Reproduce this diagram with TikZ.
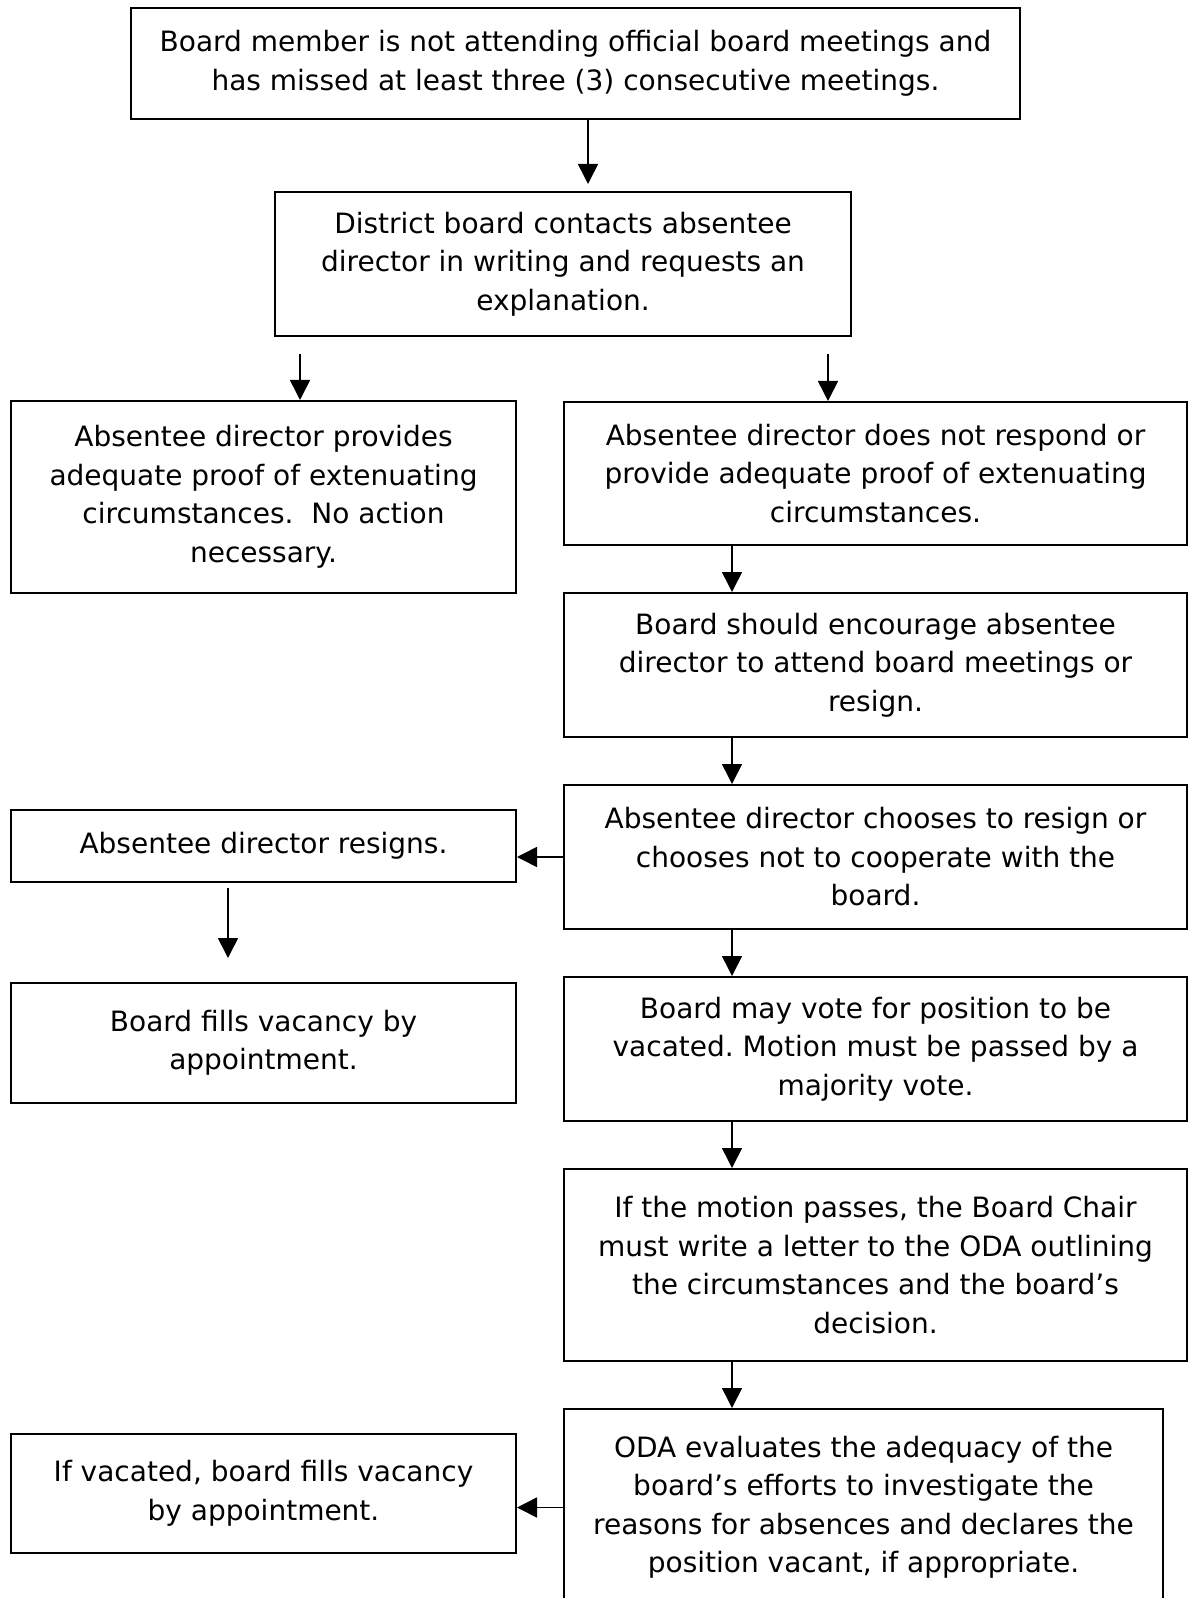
\documentclass[tikz,border=0pt]{standalone}
\usepackage{fontspec}
\setmainfont{DejaVu Sans}
\usetikzlibrary{arrows.meta, calc}
\frenchspacing

\begin{document}
\begin{tikzpicture}[x=0.5pt, y=-0.5pt]

    % Page frame
    \useasboundingbox (0,0) rectangle (1190,1598);
    \clip (0,0) rectangle (1190,1598);

    % Boxes
    \tikzset{bx/.style={draw=black, line width=1pt, align=center, inner sep=0pt, font=\fontsize{14}{19.25}\selectfont}}
    \tikzset{bxL/.style={bx, minimum width=252.5pt}}
    \tikzset{bxR/.style={bx, minimum width=311.5pt}}

    % Arrows
    \tikzset{ar/.style={-{Triangle[length=10pt, width=10pt]}, line width=0.8pt}}

    % Flow nodes
    \node (top) [bx, minimum width=444.5pt, minimum height=55.5pt] at (575.5, 63.5)
        {Board member is not attending official board meetings and\\has missed at least three (3) consecutive meetings.};
    \node (dist) [bx, minimum width=288pt, minimum height=72pt] at (563, 264)
        {District board contacts absentee\\director in writing and requests an\\explanation.};
        \node (prov) [bxL, minimum height=96pt] at (263.5, 497)
            {Absentee director provides\\adequate proof of extenuating\\circumstances.\ \ No action\\necessary.};
        \node (nresp) [bxR, minimum height=71.5pt] at (875.5, 473.5)
            {Absentee director does not respond or\\provide adequate proof of extenuating\\circumstances.};
            \node (enc) [bxR, minimum height=72pt] at (875.5, 665)
                {Board should encourage absentee\\director to attend board meetings or\\resign.};
            \node (choo) [bxR, minimum height=72pt] at (875.5, 857)
                {Absentee director chooses to resign or\\chooses not to cooperate with the\\board.};
                \node (resg) [bxL, minimum height=36pt] at (263.5, 846)
                    {Absentee director resigns.};
                \node (fill) [bxL, minimum height=60pt] at (263.5, 1043)
                    {Board fills vacancy by\\appointment.};
            \node (vote) [bxR, minimum height=72pt] at (875.5, 1049)
                {Board may vote for position to be\\vacated. Motion must be passed by a\\majority vote.};
            \node (pass) [bxR, minimum height=96pt] at (875.5, 1265)
                {If the motion passes, the Board Chair\\must write a letter to the ODA outlining\\the circumstances and the board’s\\decision.};
            \node (oda) [bx, minimum width=299.5pt, minimum height=98.5pt] at (863.5, 1507.5)
                {ODA evaluates the adequacy of the\\board’s efforts to investigate the\\reasons for absences and declares the\\position vacant, if appropriate.};
                \node (vac) [bxL, minimum height=59.5pt] at (263.5, 1493.5)
                    {If vacated, board fills vacancy\\by appointment.};

    % Arrow columns
    \coordinate (xT) at (588, 0);
    \coordinate (xL) at (300, 0);
    \coordinate (xR) at (828, 0);
    \coordinate (xC) at (732, 0);
    \coordinate (xF) at (228, 0);

    % Connectors
    \draw[ar, shorten >=3.5pt] (xT |- top.south) -- (xT |- dist.north);
        \draw[ar, shorten <=8.5pt] (xL |- dist.south) -- (xL |- prov.north);
        \draw[ar, shorten <=8.5pt] (xR |- dist.south) -- (xR |- nresp.north);
            \draw[ar] (xC |- nresp.south) -- (xC |- enc.north);
            \draw[ar] (xC |- enc.south) -- (xC |- choo.north);
            \draw[ar] (choo.west) -- (choo.west -| resg.east);
                \draw[ar, shorten <=2.5pt, shorten >=12pt] (xF |- resg.south) -- (xF |- fill.north);
            \draw[ar] (xC |- choo.south) -- (xC |- vote.north);
            \draw[ar] (xC |- vote.south) -- (xC |- pass.north);
            \draw[ar] (xC |- pass.south) -- (xC |- oda.north);
            \draw[ar] (oda.west) -- (oda.west -| vac.east);

\end{tikzpicture}
\end{document}
